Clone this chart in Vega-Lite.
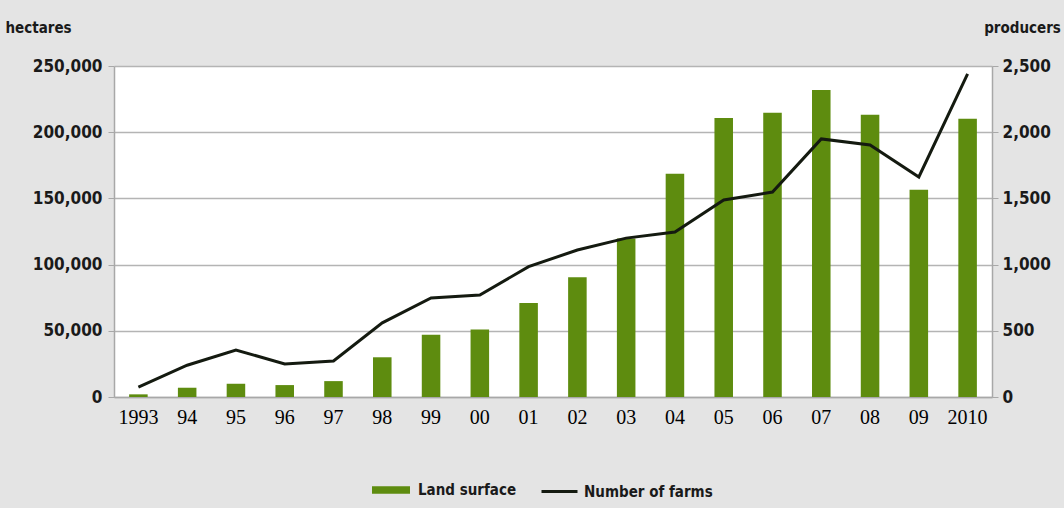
{
  "$schema": "https://vega.github.io/schema/vega-lite/v6.json",
  "width": 878,
  "height": 331,
  "autosize": {"type": "none"},
  "padding": {"left": 114, "top": 66, "right": 72, "bottom": 111},
  "background": "#e4e4e4",
  "config": {"view": {"fill": "white", "stroke": null}},
  "data": {
    "values": [
      {"year": "1993", "hectares": 2000, "farms": 75},
      {"year": "94", "hectares": 7000, "farms": 240},
      {"year": "95", "hectares": 10000, "farms": 355},
      {"year": "96", "hectares": 9000, "farms": 250},
      {"year": "97", "hectares": 12000, "farms": 272},
      {"year": "98", "hectares": 30000, "farms": 560},
      {"year": "99", "hectares": 47000, "farms": 748},
      {"year": "00", "hectares": 51000, "farms": 770},
      {"year": "01", "hectares": 71000, "farms": 985},
      {"year": "02", "hectares": 90400, "farms": 1110},
      {"year": "03", "hectares": 119700, "farms": 1200},
      {"year": "04", "hectares": 168700, "farms": 1246},
      {"year": "05", "hectares": 210800, "farms": 1488},
      {"year": "06", "hectares": 214600, "farms": 1548},
      {"year": "07", "hectares": 231900, "farms": 1949},
      {"year": "08", "hectares": 213100, "farms": 1903},
      {"year": "09", "hectares": 156600, "farms": 1662},
      {"year": "2010", "hectares": 210100, "farms": 2440}
    ]
  },
  "encoding": {
    "x": {
      "field": "year",
      "type": "ordinal",
      "sort": null,
      "scale": {"paddingInner": 0.62, "paddingOuter": 0.31},
      "axis": {
        "title": null,
        "labelAngle": 0,
        "labelFont": "Liberation Serif",
        "labelFontSize": 20,
        "labelColor": "black",
        "labelPadding": 10,
        "ticks": false,
        "domainColor": "#a8a8a8",
        "domainWidth": 1.5
      }
    }
  },
  "layer": [
    {
      "mark": {"type": "bar"},
      "encoding": {
        "y": {
          "field": "hectares",
          "type": "quantitative",
          "scale": {"domain": [0, 250000], "nice": false},
          "axis": {
            "orient": "left",
            "values": [0, 50000, 100000, 150000, 200000, 250000],
            "format": ",d",
            "labelFont": "'DejaVu Sans Condensed', 'Liberation Sans Narrow', 'Open Sans', sans-serif",
            "labelFontWeight": "bold",
            "labelFontSize": 17,
            "labelColor": "#1a1a1a",
            "labelPadding": 6,
            "tickSize": 6,
            "tickColor": "#a8a8a8",
            "domainColor": "#a8a8a8",
            "domainWidth": 1.5,
            "grid": true,
            "gridColor": "#b4b4b4",
            "gridWidth": 1.5,
            "title": "hectares",
            "titleAngle": 0,
            "titleX": -76,
            "titleY": -39,
            "titleAlign": "center",
            "titleBaseline": "middle",
            "titleFont": "'DejaVu Sans Condensed', 'Liberation Sans Narrow', 'Open Sans', sans-serif",
            "titleFontWeight": "bold",
            "titleFontSize": 15,
            "titleColor": "#1a1a1a"
          }
        },
        "fill": {
          "datum": "Land surface",
          "type": "nominal",
          "scale": {"range": ["#5e8c0f"]},
          "legend": {
            "title": null,
            "orient": "none",
            "legendX": 258,
            "legendY": 405,
            "symbolType": "M-1,-0.2H1V0.2H-1Z",
            "symbolSize": 1444,
            "symbolStrokeWidth": 0,
            "labelFont": "'DejaVu Sans Condensed', 'Liberation Sans Narrow', 'Open Sans', sans-serif",
            "labelFontWeight": "bold",
            "labelFontSize": 15,
            "labelColor": "#1a1a1a",
            "labelOffset": 8
          }
        }
      }
    },
    {
      "mark": {"type": "line", "strokeWidth": 3},
      "encoding": {
        "y": {
          "field": "farms",
          "type": "quantitative",
          "scale": {"domain": [0, 2500], "nice": false},
          "axis": {
            "orient": "right",
            "values": [0, 500, 1000, 1500, 2000, 2500],
            "format": ",d",
            "labelFont": "'DejaVu Sans Condensed', 'Liberation Sans Narrow', 'Open Sans', sans-serif",
            "labelFontWeight": "bold",
            "labelFontSize": 17,
            "labelColor": "#1a1a1a",
            "labelPadding": 4,
            "tickSize": 6,
            "tickColor": "#a8a8a8",
            "domainColor": "#a8a8a8",
            "domainWidth": 1.5,
            "grid": false,
            "title": "producers",
            "titleAngle": 0,
            "titleX": 30,
            "titleY": -39,
            "titleAlign": "center",
            "titleBaseline": "middle",
            "titleFont": "'DejaVu Sans Condensed', 'Liberation Sans Narrow', 'Open Sans', sans-serif",
            "titleFontWeight": "bold",
            "titleFontSize": 15,
            "titleColor": "#1a1a1a"
          }
        },
        "stroke": {
          "datum": "Number of farms",
          "type": "nominal",
          "scale": {"range": ["#141a10"]},
          "legend": {
            "title": null,
            "orient": "none",
            "legendX": 426,
            "legendY": 406,
            "symbolType": "stroke",
            "symbolSize": 1296,
            "symbolStrokeWidth": 3,
            "labelFont": "'DejaVu Sans Condensed', 'Liberation Sans Narrow', 'Open Sans', sans-serif",
            "labelFontWeight": "bold",
            "labelFontSize": 15,
            "labelColor": "#1a1a1a",
            "labelOffset": 5
          }
        }
      }
    }
  ],
  "resolve": {"scale": {"y": "independent"}}
}
